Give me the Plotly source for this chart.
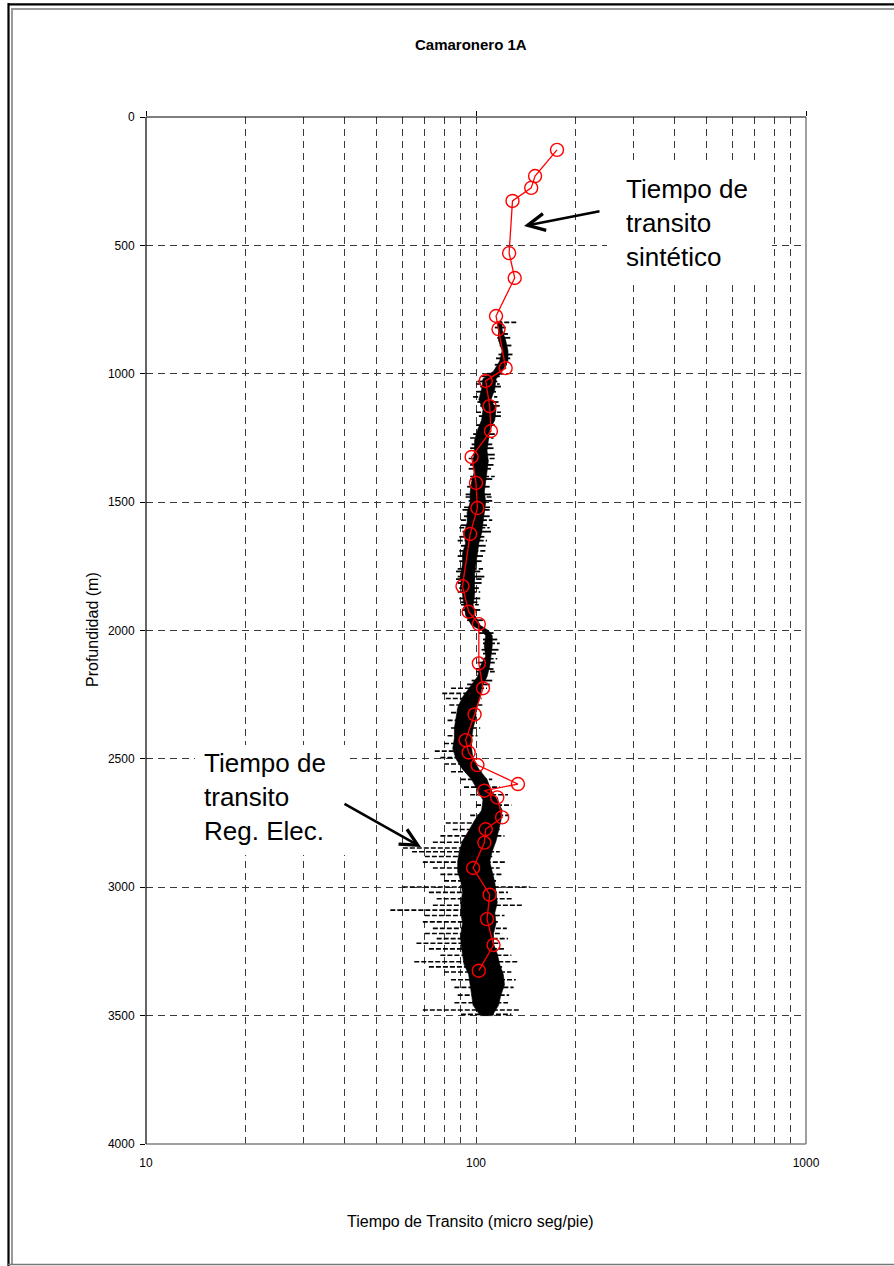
import plotly.graph_objects as go

# ---------------- data ----------------
# synthetic transit time (red, circles)
syn_depth = [128, 230, 276, 327, 530, 627, 775, 826, 978, 1028, 1126, 1223, 1324, 1425,
             1523, 1624, 1827, 1927, 1975, 2128, 2225, 2327, 2427, 2475, 2524, 2598,
             2624, 2650, 2728, 2774, 2826, 2925, 3029, 3124, 3225, 3325]
syn_dt = [176, 151, 147, 129, 126, 131, 115, 117, 123, 107, 110, 111, 97, 100,
          101, 96, 91, 95, 102, 102, 105, 99, 93, 95, 101, 134,
          106, 116, 120, 107, 106, 98, 110, 108, 113, 102]

# electric-log transit time: dense core envelope (min / max per depth)
log_depth = [795, 800, 830, 870, 910, 950, 990, 1020, 1060, 1100, 1140, 1180, 1220, 1260,
             1300, 1340, 1380, 1420, 1460, 1500, 1540, 1580, 1620, 1660, 1700, 1740, 1780,
             1820, 1860, 1900, 1940, 1980, 2000, 2020, 2060, 2100, 2140, 2180, 2220, 2260,
             2300, 2340, 2380, 2420, 2460, 2500, 2540, 2580, 2620, 2660, 2700, 2740, 2780,
             2820, 2860, 2900, 2940, 2980, 3020, 3060, 3100, 3140, 3180, 3220, 3260, 3300,
             3340, 3380, 3420, 3460, 3500]
log_min = [117, 116, 117, 117, 120, 118, 113, 105, 104, 102, 105, 104, 101, 99,
           99, 98, 99, 97, 96, 96, 94, 94, 92, 93, 91, 91, 90,
           90, 91, 92, 93, 97, 104, 107, 106, 107, 103, 101, 96, 91,
           88, 87, 86, 86, 85, 87, 91, 97, 101, 105, 104, 99, 95,
           91, 89, 88, 88, 90, 91, 90, 90, 91, 90, 90, 91, 92,
           95, 96, 97, 98, 103]
log_max = [119, 120, 120, 123, 125, 125, 120, 115, 114, 111, 115, 114, 110, 109,
           108, 109, 108, 107, 106, 107, 106, 105, 104, 102, 101, 100, 99,
           99, 99, 98, 99, 103, 109, 112, 112, 111, 110, 108, 104, 103,
           100, 100, 98, 97, 97, 98, 102, 108, 111, 116, 120, 119, 117,
           115, 112, 110, 112, 114, 115, 116, 114, 115, 113, 113, 116, 118,
           121, 122, 119, 117, 112]

# short streaks along the upper log (depth, low value, high value)
fine_depth = [820, 845, 860, 890, 925, 940, 965, 1000, 1010, 1030, 1050, 1070, 1110, 1125,
              1165, 1200, 1235, 1275, 1290, 1315, 1355, 1370, 1410, 1440, 1470, 1495,
              1530, 1555, 1590, 1615, 1635, 1670, 1710, 1730, 1770, 1790, 1815, 1835,
              1875, 1890, 1920, 1960, 2010, 2035, 2075, 2090, 2125, 2150, 2195, 2210]
fine_lo = [114, 117, 116, 118, 117, 115, 114, 108, 104, 101, 103, 100, 101, 103,
           102, 100, 98, 97, 96, 98, 96, 95, 96, 94, 93, 95,
           91, 92, 90, 91, 89, 90, 88, 89, 87, 88, 88, 89,
           89, 90, 91, 94, 102, 105, 104, 105, 101, 100, 97, 94]
fine_hi = [123, 125, 127, 128, 129, 127, 124, 121, 118, 116, 119, 115, 117, 118,
           119, 114, 114, 112, 113, 114, 113, 111, 112, 110, 111, 112,
           110, 110, 108, 111, 106, 107, 105, 104, 103, 106, 104, 102,
           103, 101, 103, 105, 113, 116, 117, 115, 114, 113, 112, 110]

# long streaks of the electric log (depth, low value, high value)
spike_depth = [800, 1040, 1090, 1150, 1250, 1330, 1400, 1480, 1520, 1570, 1600, 1650, 1690,
               1760, 1800, 1850, 1900, 2050, 2110, 2160,
               2225, 2245, 2265, 2290, 2320, 2350, 2380, 2410, 2440, 2470, 2495, 2520,
               2550, 2580, 2610, 2640, 2680, 2720, 2750, 2775, 2800, 2825, 2847, 2862,
               2880, 2902, 2925, 2950, 2975, 2999, 3020, 3045, 3070, 3089, 3110, 3135,
               3160, 3180, 3200, 3218, 3240, 3265, 3290, 3310, 3330, 3360, 3390, 3420,
               3450, 3478, 3495]
spike_lo = [116, 100, 98, 100, 96, 95, 96, 93, 92, 90, 89, 88, 89,
            88, 87, 88, 90, 105, 104, 100,
            84, 79, 81, 83, 84, 82, 84, 82, 80, 75, 78, 80,
            84, 90, 92, 96, 100, 96, 81, 85, 78, 74, 60, 64,
            70, 69, 74, 78, 80, 60, 72, 76, 74, 55, 70, 69,
            74, 70, 76, 66, 72, 78, 65, 72, 80, 84, 86, 88,
            86, 69, 90]
spike_hi = [134, 118, 116, 119, 113, 115, 114, 113, 112, 112, 110, 108, 108,
            105, 104, 103, 102, 118, 116, 114,
            108, 100, 104, 106, 100, 98, 103, 101, 96, 95, 98, 100,
            104, 112, 118, 125, 128, 126, 120, 118, 122, 115, 110, 118,
            112, 124, 118, 120, 115, 146, 125, 130, 139, 110, 122, 118,
            124, 120, 125, 118, 122, 128, 134, 120, 128, 132, 130, 126,
            125, 136, 128]

x_tick_vals = [10, 100, 1000]
x_tick_text = ["10", "100", "1000"]
x_minor_vals = [20, 30, 40, 50, 60, 70, 80, 90, 200, 300, 400, 500, 600, 700, 800, 900]
y_tick_vals = [0, 500, 1000, 1500, 2000, 2500, 3000, 3500, 4000]

title_text = "Camaronero 1A"
x_title = "Tiempo de Transito (micro seg/pie)"
y_title = "Profundidad (m)"
label_syn = "Tiempo de<br>transito<br>sintético"
label_log = "Tiempo de<br>transito<br>Reg. Elec."

# ---------------- figure ----------------
W, H = 894, 1266
L, T = 146, 117
R = W - 806
B = H - 1144
PW, PH = W - L - R, H - T - B


def px(x):  # page pixel x -> paper
    return (x - L) / PW


def py(y):  # page pixel y -> paper
    return (H - B - y) / PH


FONT = "Liberation Sans, Arial, sans-serif"
NARROW = "Liberation Sans Narrow, Arial Narrow, Liberation Sans, Arial, sans-serif"
GRID = "#3a3a3a"
DASH = "7px,5px"

fig = go.Figure()

# core band of the electric log
band_x = log_min + log_max[::-1]
band_y = log_depth + log_depth[::-1]
fig.add_trace(go.Scatter(x=band_x, y=band_y, mode="lines", fill="toself",
                         fillcolor="black", line=dict(color="black", width=0.6),
                         showlegend=False, hoverinfo="skip"))


def segments(depths, lows, highs):
    xs, ys = [], []
    for d, lo, hi in zip(depths, lows, highs):
        xs += [lo, hi, None]
        ys += [d, d, None]
    return xs, ys


fx, fy = segments(fine_depth, fine_lo, fine_hi)
fig.add_trace(go.Scatter(x=fx, y=fy, mode="lines",
                         line=dict(color="black", width=1.8),
                         showlegend=False, hoverinfo="skip"))

sx, sy = segments(spike_depth, spike_lo, spike_hi)
fig.add_trace(go.Scatter(x=sx, y=sy, mode="lines",
                         line=dict(color="black", width=1.6, dash="5px,2px"),
                         showlegend=False, hoverinfo="skip"))

# synthetic transit time
fig.add_trace(go.Scatter(x=syn_dt, y=syn_depth, mode="lines+markers",
                         line=dict(color="#ff0000", width=1.3),
                         marker=dict(symbol="circle-open", size=13, color="#ff0000",
                                     line=dict(width=1.4, color="#ff0000")),
                         showlegend=False))

# empty trace for top tick axis
fig.add_trace(go.Scatter(x=[None], y=[None], xaxis="x2", yaxis="y", showlegend=False,
                         hoverinfo="skip"))

shapes = []
# white boxes behind labels
shapes.append(dict(type="rect", xref="paper", yref="paper", x0=px(607), x1=px(772),
                   y0=py(280), y1=py(165), fillcolor="white", line=dict(width=0), layer="above"))
shapes.append(dict(type="rect", xref="paper", yref="paper", x0=px(195), x1=px(349),
                   y0=py(855), y1=py(745), fillcolor="white", line=dict(width=0), layer="above"))
# plot area border
shapes.append(dict(type="line", xref="paper", yref="paper", x0=1, x1=1, y0=0, y1=1,
                   line=dict(color="#808080", width=1.5)))
shapes.append(dict(type="line", xref="paper", yref="paper", x0=0, x1=1, y0=0, y1=0,
                   line=dict(color="#808080", width=1.5)))
shapes.append(dict(type="line", xref="paper", yref="paper", x0=0, x1=0, y0=0, y1=1,
                   line=dict(color="black", width=1.2)))
shapes.append(dict(type="line", xref="paper", yref="paper", x0=0, x1=1, y0=1, y1=1,
                   line=dict(color="black", width=1.2)))
# page frame
shapes.append(dict(type="line", xref="paper", yref="paper", x0=px(8.5), x1=px(8.5),
                   y0=py(3), y1=py(1266), line=dict(color="black", width=2.2)))
shapes.append(dict(type="line", xref="paper", yref="paper", x0=px(8), x1=px(894),
                   y0=py(4.3), y1=py(4.3), line=dict(color="black", width=2.2)))
shapes.append(dict(type="line", xref="paper", yref="paper", x0=px(12), x1=px(12),
                   y0=py(8), y1=py(1264), line=dict(color="#9a9a9a", width=2)))
shapes.append(dict(type="line", xref="paper", yref="paper", x0=px(11), x1=px(894),
                   y0=py(9), y1=py(9), line=dict(color="#9a9a9a", width=2)))
shapes.append(dict(type="line", xref="paper", yref="paper", x0=px(8), x1=px(894),
                   y0=py(1264.5), y1=py(1264.5), line=dict(color="#777777", width=1.5)))

annotations = [
    dict(text=f"<b>{title_text}</b>", xref="paper", yref="paper", x=px(471), y=py(45),
         xanchor="center", yanchor="middle", showarrow=False,
         font=dict(family=FONT, size=15, color="black")),
    dict(text=x_title, xref="paper", yref="paper", x=px(470), y=py(1221),
         xanchor="center", yanchor="middle", showarrow=False,
         font=dict(family=FONT, size=16, color="black")),
    dict(text=y_title, xref="paper", yref="paper", x=px(92), y=py(630),
         xanchor="center", yanchor="middle", showarrow=False, textangle=-90,
         font=dict(family=FONT, size=16, color="black")),
    dict(text=label_syn, xref="paper", yref="paper", x=px(624), y=py(223),
         xanchor="left", yanchor="middle", align="left", showarrow=False,
         font=dict(family=FONT, size=26, color="black")),
    dict(text=label_log, xref="paper", yref="paper", x=px(202), y=py(797),
         xanchor="left", yanchor="middle", align="left", showarrow=False,
         font=dict(family=FONT, size=26, color="black")),
    dict(text="", xref="paper", yref="paper", x=px(524), y=py(226),
         axref="pixel", ayref="pixel", ax=77, ay=-15, showarrow=True,
         arrowhead=5, arrowsize=1.3, arrowwidth=2.6, arrowcolor="black", standoff=0),
    dict(text="", xref="paper", yref="paper", x=px(421), y=py(847),
         axref="pixel", ayref="pixel", ax=-78, ay=-44, showarrow=True,
         arrowhead=5, arrowsize=1.3, arrowwidth=2.6, arrowcolor="black", standoff=0),
]

fig.update_layout(
    width=W, height=H,
    margin=dict(l=L, r=R, t=T, b=B, pad=0),
    paper_bgcolor="white", plot_bgcolor="white",
    showlegend=False,
    shapes=shapes, annotations=annotations,
    xaxis=dict(type="log", range=[1, 3], tickvals=x_tick_vals, ticktext=x_tick_text,
               ticks="", showline=False, zeroline=False,
               showgrid=True, gridcolor=GRID, gridwidth=1, griddash=DASH,
               ticklabelstandoff=10,
               tickfont=dict(family=NARROW, size=12, color="black"),
               minor=dict(tickvals=x_minor_vals, showgrid=True, gridcolor=GRID,
                          gridwidth=1, griddash=DASH, ticks="")),
    xaxis2=dict(type="log", range=[1, 3], overlaying="x", side="top", anchor="y",
                tickvals=x_tick_vals, ticks="outside", ticklen=5, tickcolor="black",
                tickwidth=1, showticklabels=False, showgrid=False, showline=False,
                zeroline=False),
    yaxis=dict(range=[4000, 0], tickvals=y_tick_vals, ticks="outside", ticklen=5,
               tickcolor="black", tickwidth=1, showline=False, zeroline=False,
               showgrid=True, gridcolor=GRID, gridwidth=1, griddash=DASH,
               ticklabelstandoff=3,
               tickfont=dict(family=NARROW, size=12, color="black")),
)

fig.write_html("out.html", config={"displayModeBar": False},
               post_script="document.body.style.margin='0px';"
                           "document.body.style.overflow='hidden';")
